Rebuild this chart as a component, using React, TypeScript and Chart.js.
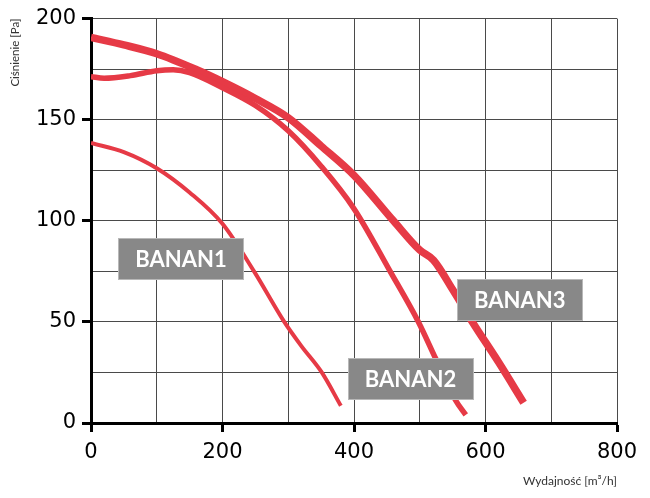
import React, { useEffect, useRef } from 'react';
import { Chart, registerables } from 'chart.js';

Chart.register(...registerables);

// ---- data ----
const banan1X = [0, 50, 100, 150, 200, 248, 294, 320, 351, 380];
const banan1Y = [138.5, 134, 126, 114, 98.5, 75, 50, 38, 25, 8.5];

const banan2X = [0, 20, 60, 100, 125, 150, 200, 250, 300, 350, 400, 455, 498, 524, 554, 570];
const banan2Y = [171.3, 170.5, 171.8, 174.2, 174.7, 173.3, 165.8, 157, 144.5, 127, 106, 75, 50, 32, 11.5, 4];

const banan3X = [0, 50, 100, 160, 200, 250, 300, 350, 400, 460, 500, 521, 550, 580, 620, 658];
const banan3Y = [190.7, 187, 182.6, 174.8, 168.8, 160.5, 151, 137, 122.5, 100, 85.5, 80.5, 66, 50, 30, 10];

const seriesNames = ['BANAN1', 'BANAN2', 'BANAN3'];
const seriesWidths = [4, 5.5, 7.5];
const labelX = [137, 486, 652];
const labelY = [81, 22, 61];

const xLabelValues = [0, 200, 400, 600, 800];
const yLabelValues = [0, 50, 100, 150, 200];
const xTitle = 'Wydajność [m³/h]';
const yTitle = 'Ciśnienie [Pa]';

const RED = '#e63a46';

const toPoints = (xs: number[], ys: number[]) => xs.map((x, i) => ({ x, y: ys[i] }));

const boxLabels = {
  id: 'boxLabels',
  afterDatasetsDraw(chart: any) {
    const { ctx, scales } = chart;
    const xs = scales.x;
    const ys = scales.y;
    ctx.save();
    seriesNames.forEach((name, i) => {
      const cx = xs.getPixelForValue(labelX[i]);
      const cy = ys.getPixelForValue(labelY[i]);
      const w = 126;
      const h = 42;
      ctx.fillStyle = '#888888';
      ctx.fillRect(Math.round(cx - w / 2), Math.round(cy - h / 2), w, h);
      ctx.strokeStyle = '#b8b8b8';
      ctx.lineWidth = 1;
      ctx.strokeRect(Math.round(cx - w / 2) + 0.5, Math.round(cy - h / 2) + 0.5, w - 1, h - 1);
      ctx.fillStyle = '#ffffff';
      ctx.font = 'bold 22px Lato';
      ctx.textAlign = 'center';
      ctx.textBaseline = 'middle';
      ctx.fillText(name, cx, cy + 1);
    });
    ctx.restore();
  },
};

export default function App() {
  const ref = useRef<HTMLCanvasElement | null>(null);

  useEffect(() => {
    document.body.style.margin = '0';
    if (!ref.current) return;
    const data = [
      toPoints(banan1X, banan1Y),
      toPoints(banan2X, banan2Y),
      toPoints(banan3X, banan3Y),
    ];
    const chart = new Chart(ref.current, {
      type: 'line',
      data: {
        datasets: seriesNames.map((name, i) => ({
          label: name,
          data: data[i],
          borderColor: RED,
          backgroundColor: RED,
          borderWidth: seriesWidths[i],
          pointRadius: 0,
          cubicInterpolationMode: 'monotone' as const,
          borderCapStyle: 'butt' as const,
          borderJoinStyle: 'round' as const,
          fill: false,
        })),
      },
      options: {
        responsive: false,
        animation: false,
        events: [],
        layout: { padding: { top: 14, right: 33, left: 0, bottom: 0 } },
        plugins: {
          legend: { display: false },
          tooltip: { enabled: false },
        },
        scales: {
          x: {
            type: 'linear',
            min: 0,
            max: 800,
            afterFit: (s: any) => {
              s.height = 75;
            },
            ticks: {
              stepSize: 100,
              autoSkip: false,
              maxRotation: 0,
              padding: 8,
              color: '#000',
              font: { family: 'DejaVu Sans', size: 21 },
              callback: (v: any) => (xLabelValues.includes(Number(v)) ? String(v) : ''),
            },
            grid: {
              color: '#4a4a4a',
              lineWidth: 1,
              tickLength: 9,
              tickWidth: 3,
              tickColor: (c: any) => (c.tick && xLabelValues.includes(c.tick.value) ? '#000' : 'rgba(0,0,0,0)'),
            },
            border: { display: true, color: '#000', width: 3 },
            title: {
              display: true,
              text: xTitle,
              align: 'end',
              color: '#333',
              font: { family: 'Lato', size: 12 },
              padding: { top: 0, bottom: 10 },
            },
          },
          y: {
            type: 'linear',
            min: 0,
            max: 200,
            afterFit: (s: any) => {
              s.width = 91;
            },
            ticks: {
              stepSize: 25,
              autoSkip: false,
              padding: 6,
              color: '#000',
              font: { family: 'DejaVu Sans', size: 21 },
              callback: (v: any) => (yLabelValues.includes(Number(v)) ? String(v) : ''),
            },
            grid: {
              color: '#4a4a4a',
              lineWidth: 1,
              tickLength: 9,
              tickWidth: 3,
              tickColor: (c: any) => (c.tick && yLabelValues.includes(c.tick.value) ? '#000' : 'rgba(0,0,0,0)'),
            },
            border: { display: true, color: '#000', width: 3 },
            title: {
              display: true,
              text: yTitle,
              align: 'end',
              color: '#333',
              font: { family: 'Lato', size: 11.5 },
              padding: { top: 8, bottom: 0 },
            },
          },
        },
      },
      plugins: [boxLabels],
    });
    return () => chart.destroy();
  }, []);

  return (
    <div style={{ width: 650, height: 498 }}>
      <canvas ref={ref} width={650} height={498} style={{ display: 'block' }} />
    </div>
  );
}
